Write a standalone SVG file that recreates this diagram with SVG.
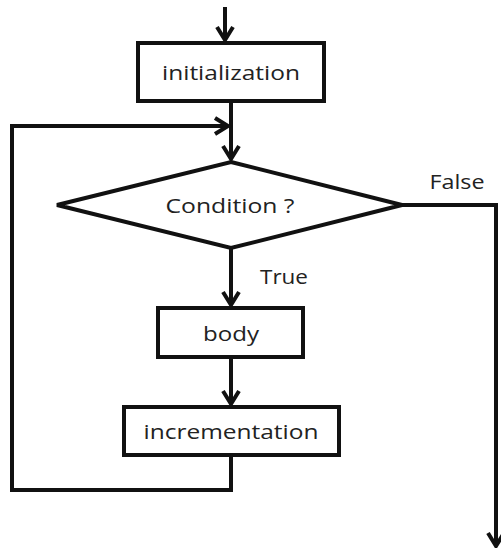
<svg xmlns="http://www.w3.org/2000/svg" width="501" height="548" viewBox="0 0 501 548">
<style>
.box{fill:#fff;stroke:#111;stroke-width:4}
.ln{fill:none;stroke:#111;stroke-width:4}
.t{font-family:"Open Sans","Liberation Sans",sans-serif;font-size:20px;fill:#222;text-anchor:middle}
</style>
<defs>
<marker id="arr" viewBox="-3 -3 19 22" refX="13" refY="8" markerWidth="19" markerHeight="22" markerUnits="userSpaceOnUse" orient="auto" overflow="visible">
<path d="M0,0 L13,8 L0,16" fill="none" stroke="#111" stroke-width="4" stroke-linejoin="miter"/>
</marker>
</defs>
<rect width="501" height="548" fill="#fff"/>
<g id="connectors">
<line class="ln" x1="225" y1="7" x2="225" y2="40" marker-end="url(#arr)"/>
<line class="ln" x1="231" y1="101" x2="231" y2="159" marker-end="url(#arr)"/>
<polyline class="ln" points="231,455 231,490 12,490 12,126 228,126" marker-end="url(#arr)"/>
<line class="ln" x1="231" y1="248" x2="231" y2="305" marker-end="url(#arr)"/>
<line class="ln" x1="231" y1="357" x2="231" y2="404" marker-end="url(#arr)"/>
<polyline class="ln" points="402,205 496,205 496,546" marker-end="url(#arr)"/>
<text class="t" x="284" y="284" textLength="48" lengthAdjust="spacingAndGlyphs">True</text>
<text class="t" x="457" y="189" textLength="55" lengthAdjust="spacingAndGlyphs">False</text>
</g>
<g id="init">
<rect class="box" x="138" y="43" width="186" height="58"/>
<text class="t" x="231" y="80" textLength="138" lengthAdjust="spacingAndGlyphs">initialization</text>
</g>
<g id="condition">
<polygon class="box" points="231,162 402,205 231,248 57,205"/>
<text class="t" x="230" y="213" textLength="129" lengthAdjust="spacingAndGlyphs">Condition ?</text>
</g>
<g id="body">
<rect class="box" x="158" y="308" width="145" height="49"/>
<text class="t" x="231" y="341" textLength="56" lengthAdjust="spacingAndGlyphs">body</text>
</g>
<g id="incrementation">
<rect class="box" x="124" y="407" width="215" height="48"/>
<text class="t" x="231" y="439" textLength="175" lengthAdjust="spacingAndGlyphs">incrementation</text>
</g>
</svg>
